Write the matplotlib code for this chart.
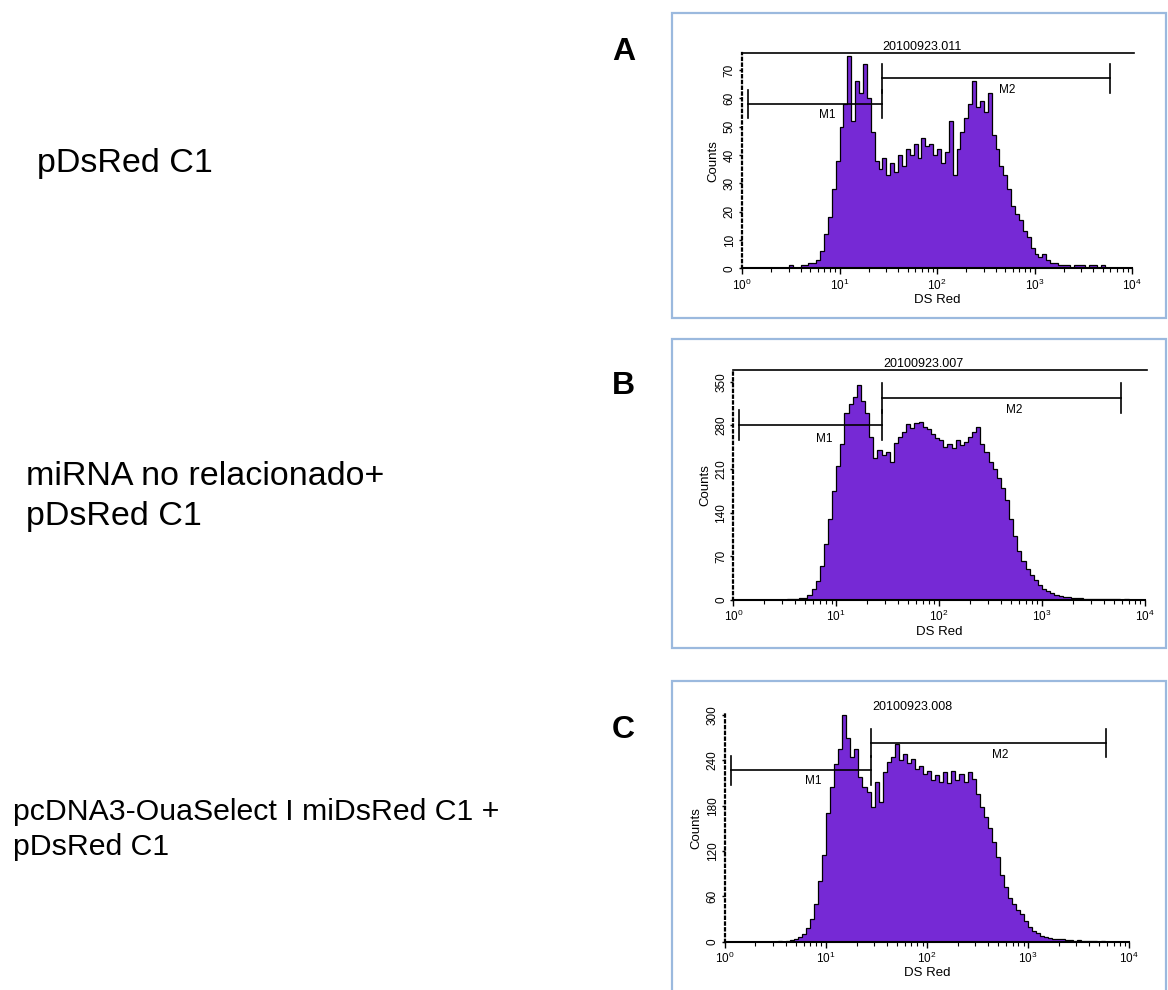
import numpy as np
import matplotlib.pyplot as plt
from matplotlib.patches import Rectangle

plt.rcParams['font.family'] = ['Liberation Sans', 'DejaVu Sans']

W, H = 1168, 990

# 100 canales logaritmicos sobre 4 decadas (DS Red)
log_edges = np.linspace(0, 4, 101)
edges = 10 ** log_edges

counts_a = [0, 0, 0, 0, 0, 0, 0, 0, 0, 0, 0, 0, 1, 0, 0, 1, 1, 2, 2, 3,
            6, 12, 18, 28, 38, 50, 58, 75, 52, 66, 62, 72, 60, 48, 38, 35, 39, 33, 37, 34,
            40, 36, 42, 40, 44, 39, 46, 43, 44, 40, 42, 37, 41, 52, 33, 42, 48, 53, 58, 66,
            57, 59, 55, 62, 47, 42, 36, 33, 28, 22, 19, 17, 13, 11, 7, 5, 4, 5, 3, 2,
            2, 1, 1, 1, 0, 1, 1, 1, 0, 1, 1, 0, 1, 0, 0, 0, 0, 0, 0, 0]

counts_b = [0, 0, 0, 0, 0, 0, 0, 0, 0, 0, 0, 0, 0, 1, 2, 1, 3, 4, 8, 18,
            30, 55, 90, 130, 175, 215, 250, 300, 315, 325, 345, 320, 300, 262, 228, 240, 232, 238, 222, 252,
            262, 270, 282, 276, 284, 286, 278, 274, 266, 260, 256, 246, 250, 244, 256, 248, 254, 262, 270, 278,
            250, 238, 222, 210, 195, 180, 160, 130, 102, 78, 62, 50, 40, 32, 24, 18, 14, 11, 8, 7,
            5, 5, 4, 3, 3, 2, 2, 2, 1, 2, 1, 1, 1, 1, 0, 1, 0, 0, 0, 0]

counts_c = [0, 0, 0, 0, 0, 0, 0, 0, 0, 0, 0, 0, 0, 1, 0, 1, 2, 3, 6, 10,
            18, 30, 50, 80, 115, 170, 205, 235, 255, 300, 270, 245, 255, 218, 205, 198, 178, 212, 185, 225,
            238, 245, 262, 240, 248, 236, 242, 228, 232, 222, 226, 214, 220, 212, 224, 210, 226, 214, 222, 212,
            224, 215, 196, 178, 165, 150, 132, 112, 88, 72, 58, 50, 42, 36, 28, 20, 14, 11, 8, 6,
            5, 4, 3, 3, 2, 2, 1, 2, 1, 1, 1, 1, 0, 1, 0, 0, 0, 0, 0, 0]

counts = [counts_a, counts_b, counts_c]
titles = ['20100923.011', '20100923.007', '20100923.008']
letters = ['A', 'B', 'C']
y_tops = [76, 369, 302]
y_ticks = [list(range(0, 71, 10)), list(range(0, 351, 70)), list(range(0, 301, 60))]
show_all_gate = [True, True, False]

# marcadores M1 / M2: (inicio, fin) en DS Red y altura en Counts
m1_range = (10 ** 0.06, 10 ** 1.44)
m2_range = (10 ** 1.44, 10 ** 3.77)
m1_y = [58, 281, 227]
m2_y = [67, 324, 263]
cap_half = [5, 24, 19]
m1_label = [(10 ** 0.87, 54), (10 ** 0.88, 259), (10 ** 0.87, 213)]
m2_label = [(10 ** 2.72, 63), (10 ** 2.73, 305), (10 ** 2.72, 247)]

labels_left = [['pDsRed C1'],
               ['miRNA no relacionado+', 'pDsRed C1'],
               ['pcDNA3-OuaSelect I miDsRed C1 +', 'pDsRed C1']]

purple = '#7629d5'
frame_blue = '#9bb9de'

fig = plt.figure(figsize=(W / 100, H / 100), dpi=100)


def fbox(left, top, right, bottom):
    return [left / W, 1 - bottom / H, (right - left) / W, (bottom - top) / H]


axes_px = [(742, 53, 1132, 268.3), (733.3, 370, 1145, 600), (725, 713.5, 1129.3, 941.7)]
frames_px = [(672, 13, 1166, 318), (672, 339, 1166, 648), (672, 681, 1166, 1000)]
letters_px = [(612, 60), (612, 394), (612, 738)]
text_px = [[(37, 172)], [(26, 485), (26, 525)], [(13, 820), (13, 855)]]
text_size = [24.5, 24.5, 21.8]

for i in range(3):
    # marco azul claro
    l, t, r, b = frames_px[i]
    fig.add_artist(Rectangle((l / W, 1 - b / H), (r - l) / W, (b - t) / H,
                             transform=fig.transFigure, fill=False,
                             edgecolor=frame_blue, linewidth=1.6))

    ax = fig.add_axes(fbox(*axes_px[i]))
    ax.stairs(counts[i], edges, fill=True, color=purple, baseline=0)
    ax.stairs(counts[i], edges, color='black', linewidth=0.9, baseline=0)
    ax.set_xscale('log')
    ax.set_xlim(1, 1e4)
    ax.set_ylim(0, y_tops[i])
    ax.set_yticks(y_ticks[i])
    ax.spines['top'].set_visible(False)
    ax.spines['right'].set_visible(False)
    ax.spines['left'].set_linestyle((0, (1, 1.6)))
    ax.spines['left'].set_linewidth(1.6)
    ax.spines['bottom'].set_linewidth(1.5)
    ax.tick_params(axis='x', which='major', length=4.5, width=1, labelsize=8.5, pad=2)
    ax.tick_params(axis='x', which='minor', length=3, width=0.8)
    ax.tick_params(axis='y', length=2.5, width=1, labelsize=8.5, pad=2, labelrotation=90)
    for lab in ax.get_yticklabels():
        lab.set_va('center')
    ax.set_xlabel('DS Red', fontsize=9.5, labelpad=1)
    ax.set_ylabel('Counts', fontsize=9.5, labelpad=3)

    ax.text(10 ** 1.85, 1.0, titles[i], transform=ax.get_xaxis_transform(),
            ha='center', va='bottom', fontsize=9)

    if show_all_gate[i]:
        ax.plot([1, 1.04e4], [y_tops[i], y_tops[i]], color='black', lw=1.2, clip_on=False)

    c = cap_half[i]
    for (x0, x1), y in ((m1_range, m1_y[i]), (m2_range, m2_y[i])):
        ax.plot([x0, x1], [y, y], color='black', lw=1.2, clip_on=False)
        ax.plot([x0, x0], [y - c, y + c], color='black', lw=1.2, clip_on=False)
        ax.plot([x1, x1], [y - c, y + c], color='black', lw=1.2, clip_on=False)
    ax.text(*m1_label[i], 'M1', ha='center', va='center', fontsize=8.5)
    ax.text(*m2_label[i], 'M2', ha='center', va='center', fontsize=8.5)

    lx, ly = letters_px[i]
    fig.text(lx / W, 1 - ly / H, letters[i], fontsize=23, fontweight='bold',
             ha='left', va='baseline')
    for line, (tx, ty) in zip(labels_left[i], text_px[i]):
        fig.text(tx / W, 1 - ty / H, line, fontsize=text_size[i], ha='left', va='baseline')

fig.savefig('out.png', dpi=100)
